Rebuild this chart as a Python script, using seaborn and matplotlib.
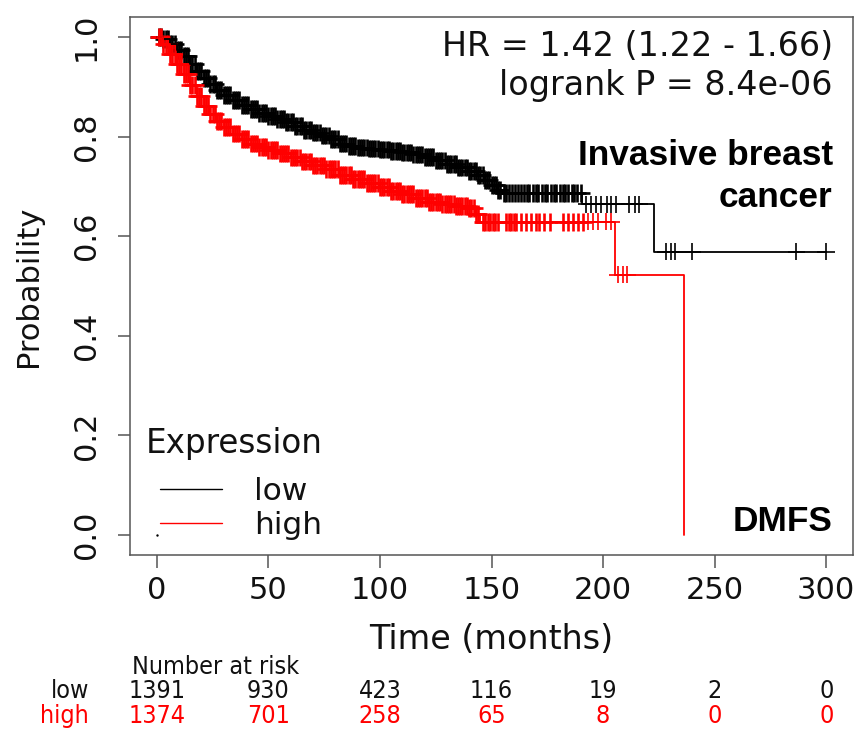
import numpy as np
import pandas as pd
import matplotlib
matplotlib.use("Agg")
import matplotlib.pyplot as plt
import matplotlib.transforms as mtransforms
import seaborn as sns

# ---------------- data ----------------
low_time = [0, 3, 6, 9, 12, 15, 18, 21, 24, 27, 30, 34, 38, 42, 46, 50, 54, 58, 62, 66,
            70, 74, 78, 82, 86, 90, 95, 100, 105, 110, 115, 120, 125, 130, 135, 140, 144,
            147, 150, 153, 155, 190.5, 222.6, 299.9]
low_surv = [1.0, 0.995, 0.985, 0.974, 0.961, 0.946, 0.931, 0.917, 0.905, 0.894, 0.884, 0.873,
            0.863, 0.855, 0.848, 0.842, 0.836, 0.830, 0.822, 0.814, 0.808, 0.802, 0.795, 0.786,
            0.781, 0.778, 0.776, 0.774, 0.771, 0.768, 0.764, 0.759, 0.752, 0.745, 0.738, 0.731,
            0.722, 0.713, 0.702, 0.692, 0.687, 0.664, 0.569, 0.569]

high_time = [0, 3, 6, 9, 12, 15, 18, 21, 24, 27, 30, 34, 38, 42, 46, 50, 55, 60, 65, 70, 76,
             82, 88, 94, 100, 105, 110, 116, 122, 128, 134, 140, 143, 145, 205.5, 236.4]
high_surv = [1.0, 0.985, 0.965, 0.945, 0.925, 0.903, 0.882, 0.862, 0.846, 0.832, 0.820, 0.806,
             0.795, 0.786, 0.779, 0.773, 0.766, 0.758, 0.750, 0.742, 0.735, 0.722, 0.714, 0.706,
             0.698, 0.690, 0.684, 0.676, 0.669, 0.664, 0.660, 0.656, 0.645, 0.629, 0.523, 0.0]

# censoring marks: very dense up to ~150 months, then the individually visible ones
low_censor = [1, 2, 3, 4, 5, 6, 7, 8, 9, 10, 11, 12, 13, 14, 15, 16, 17, 18, 19, 20,
              21, 22, 23, 24, 25, 26, 27, 28, 29, 30, 31, 32, 33, 34, 35, 36, 37, 38, 39, 40,
              41, 42, 43, 44, 45, 46, 47, 48, 49, 50, 51, 52, 53, 54, 55, 56, 57, 58, 59, 60,
              61, 62, 63, 64, 65, 66, 67, 68, 69, 70, 71, 72, 73, 74, 75, 76, 77, 78, 79, 80,
              81, 82, 83, 84, 85, 86, 87, 88, 89, 90, 91, 92, 93, 94, 95, 96, 97, 98, 99, 100,
              101, 102, 103, 104, 105, 106, 107, 108, 109, 110, 111, 112, 113, 114, 115, 116,
              117, 118, 119, 120, 121, 122, 123, 124, 125, 126, 127, 128, 129, 130, 131, 132,
              133, 134, 135, 136, 137, 138, 139, 140, 141, 142, 143, 144, 145, 146, 147, 148,
              149, 150, 151, 152, 153, 154, 155.5, 156.5, 158, 159, 160.5, 162, 163, 164.5, 166,
              167, 168.5, 170, 171, 172.5, 174, 175, 176.5, 178, 179, 180.5, 182, 183, 184.5,
              186, 187, 188.5, 190, 192.4, 194.6, 196.9, 199.1, 201.6, 203.6, 205.8, 211.8,
              214.1, 216.3, 228.2, 230.4, 232.3, 239.9, 286.5, 299.9]
high_censor = [1, 2, 3, 4, 5, 6, 7, 8, 9, 10, 11, 12, 13, 14, 15, 16, 17, 18, 19, 20,
               21, 22, 23, 24, 25, 26, 27, 28, 29, 30, 31, 32, 33, 34, 35, 36, 37, 38, 39, 40,
               41, 42, 43, 44, 45, 46, 47, 48, 49, 50, 51, 52, 53, 54, 55, 56, 57, 58, 59, 60,
               61, 62, 63, 64, 65, 66, 67, 68, 69, 70, 71, 72, 73, 74, 75, 76, 77, 78, 79, 80,
               81, 82, 83, 84, 85, 86, 87, 88, 89, 90, 91, 92, 93, 94, 95, 96, 97, 98, 99, 100,
               101, 102, 103, 104, 105, 106, 107, 108, 109, 110, 111, 112, 113, 114, 115, 116,
               117, 118, 119, 120, 121, 122, 123, 124, 125, 126, 127, 128, 129, 130, 131, 132,
               133, 134, 135, 136, 137, 138, 139, 140, 141, 142, 143, 144, 146.1, 147.2, 148.4,
               149.5, 150.6, 151.7, 152.8, 156.6, 157.7, 158.8, 160, 161.1, 163.3, 165.5, 167.8,
               170.0, 171.5, 173.7, 176.0, 181.9, 184.2, 186.4, 188.6, 190.9, 193.1, 195.4,
               197.6, 201.3, 203.6, 206.6, 208.8, 210.8]

groups = ["low", "high"]
group_colors = {"low": "black", "high": "red"}
risk_times = [0, 50, 100, 150, 200, 250, 300]
risk_low = [1391, 930, 423, 116, 19, 2, 0]
risk_high = [1374, 701, 258, 65, 8, 0, 0]
x_ticks = [0, 50, 100, 150, 200, 250, 300]
y_ticks = [0.0, 0.2, 0.4, 0.6, 0.8, 1.0]
stray_x = [0]
stray_y = [0.0]
hr_text = "HR = 1.42 (1.22 - 1.66)"
p_text = "logrank P = 8.4e-06"
title_lines = ["Invasive breast", "cancer"]
endpoint = "DMFS"

# ---------------- build tables ----------------
def step_value(times, survs, t):
    idx = np.searchsorted(np.asarray(times), t, side="right") - 1
    return float(np.asarray(survs)[idx])

curves = pd.concat([
    pd.DataFrame({"time": low_time, "surv": low_surv, "group": "low"}),
    pd.DataFrame({"time": high_time, "surv": high_surv, "group": "high"}),
], ignore_index=True)

censors = pd.concat([
    pd.DataFrame({"time": low_censor,
                  "surv": [step_value(low_time, low_surv, t) for t in low_censor],
                  "group": "low"}),
    pd.DataFrame({"time": high_censor,
                  "surv": [step_value(high_time, high_surv, t) for t in high_censor],
                  "group": "high"}),
], ignore_index=True)
dense = censors[censors["time"] <= 191]
sparse = censors[censors["time"] > 191]

# ---------------- figure ----------------
sns.set_style("white")
plt.rcParams["font.family"] = ["DejaVu Sans"]
TXT = "#111111"

W, H = 862, 729
fig = plt.figure(figsize=(W / 100, H / 100), dpi=100)
ax = fig.add_axes([130 / W, 1 - 555 / H, 723 / W, 538 / H])

sns.lineplot(data=curves, x="time", y="surv", hue="group", hue_order=groups,
             palette=group_colors, drawstyle="steps-post", estimator=None, sort=False,
             linewidth=1.3, ax=ax)
sns.scatterplot(data=dense, x="time", y="surv", hue="group", hue_order=groups,
                palette=group_colors, marker="+", s=165, linewidth=1.9, legend=False, ax=ax)
sns.scatterplot(data=sparse, x="time", y="surv", hue="group", hue_order=groups,
                palette=group_colors, marker="+", s=150, linewidth=1.2, legend=False, ax=ax)
sns.scatterplot(x=stray_x, y=stray_y, color="black", s=3, linewidth=0, legend=False, ax=ax)

ax.set_xlim(-12, 312)
ax.set_ylim(-0.04, 1.04)
ax.set_xticks(x_ticks)
ax.set_xticklabels([str(v) for v in x_ticks])
ax.set_yticks(y_ticks)
ax.set_yticklabels([f"{v:.1f}" for v in y_ticks], rotation=90, va="center")

spine_col = "#555555"
for sp in ax.spines.values():
    sp.set_visible(True)
    sp.set_color(spine_col)
    sp.set_linewidth(1.1)
ax.tick_params(axis="both", direction="out", length=9, width=1.1, color=spine_col,
               labelsize=22, labelcolor=TXT)
ax.tick_params(axis="x", pad=6, bottom=True)
ax.tick_params(axis="y", pad=12, left=True)

ax.set_xlabel("Time (months)", fontsize=24, labelpad=13, color=TXT)
ax.set_ylabel("Probability", fontsize=22, labelpad=21, color=TXT)

# legend (title drawn as its own text so its gap can match)
handles, labels = ax.get_legend_handles_labels()
if ax.get_legend() is not None:
    ax.get_legend().remove()
for h in handles:
    h.set_linewidth(1.0)
leg = ax.legend(handles=handles, labels=labels, loc="upper left",
                bbox_to_anchor=(160 / W, 1 - 477 / H), bbox_transform=fig.transFigure,
                frameon=False, fontsize=22.5, handlelength=2.0,
                handletextpad=1.0, labelspacing=0.15, borderpad=0, borderaxespad=0)
for t in leg.get_texts():
    t.set_color(TXT)
fig.text(146 / W, 1 - 443 / H, "Expression", ha="left", va="center", fontsize=23.5, color=TXT)

# annotation texts
ax.text(0.972, 0.946, hr_text, transform=ax.transAxes, ha="right", va="center",
        fontsize=24, color=TXT)
ax.text(0.972, 0.873, p_text, transform=ax.transAxes, ha="right", va="center",
        fontsize=24, color=TXT)
bold_fam = ["Liberation Sans", "DejaVu Sans"]
ax.text(0.972, 0.742, title_lines[0], transform=ax.transAxes, ha="right", va="center",
        fontsize=25.4, fontweight="bold", family=bold_fam, color="black")
ax.text(0.972, 0.664, title_lines[1], transform=ax.transAxes, ha="right", va="center",
        fontsize=25.4, fontweight="bold", family=bold_fam, color="black")
ax.text(0.972, 0.063, endpoint, transform=ax.transAxes, ha="right", va="center",
        fontsize=25.4, fontweight="bold", family=bold_fam, color="black")

# number at risk table
trans = mtransforms.blended_transform_factory(ax.transData, fig.transFigure)
RS = 18
fig.text(216 / W, 1 - 667 / H, "Number at risk", ha="center", va="center",
         fontsize=RS, fontstretch="condensed", color=TXT)
fig.text(89 / W, 1 - 691 / H, "low", ha="right", va="center", fontsize=RS,
         fontstretch="condensed", color=TXT)
fig.text(89 / W, 1 - 716 / H, "high", ha="right", va="center", fontsize=RS,
         fontstretch="condensed", color="red")
for t, nl, nh in zip(risk_times, risk_low, risk_high):
    ax.text(t, 1 - 691 / H, str(nl), transform=trans, ha="center", va="center",
            fontsize=RS, fontstretch="condensed", color=TXT)
    ax.text(t, 1 - 716 / H, str(nh), transform=trans, ha="center", va="center",
            fontsize=RS, fontstretch="condensed", color="red")

fig.savefig("out.png", dpi=100, facecolor="white")
